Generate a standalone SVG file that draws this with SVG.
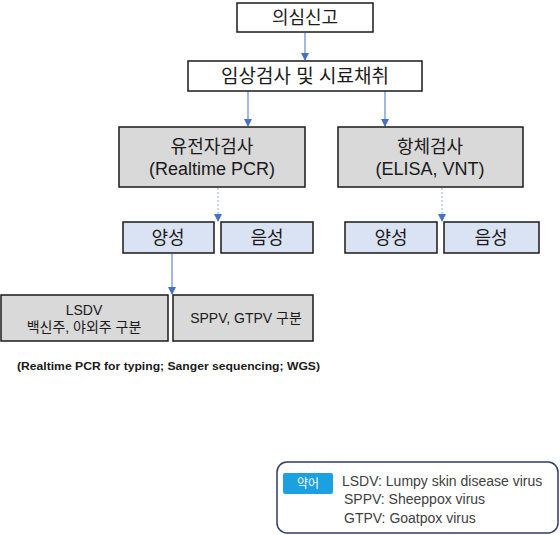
<svg xmlns="http://www.w3.org/2000/svg" width="560" height="535" viewBox="0 0 560 535">
<style>
.box{stroke:#1a1a1a;stroke-width:1.5}
.w{fill:#ffffff}
.g{fill:#d9d9d9}
.b{fill:#dae3f3}
.t{font-family:"Liberation Sans","Noto Sans CJK KR",sans-serif;fill:#1a1a1a;text-anchor:middle}
.lg{font-family:"Liberation Sans","Noto Sans CJK KR",sans-serif;fill:#404040;font-size:14px}
.arr{stroke:#4472c4;stroke-width:1;fill:none;marker-end:url(#ah)}
.dash{stroke:#9dbbe6;stroke-width:1.2;stroke-dasharray:2 2;fill:none;marker-end:url(#ah)}
</style>
<defs>
<marker id="ah" markerWidth="8" markerHeight="8" refX="7" refY="4" orient="auto" markerUnits="userSpaceOnUse">
<path d="M0,0 L8,4 L0,8 Z" fill="#4472c4"/>
</marker>
</defs>
<rect width="560" height="535" fill="#ffffff"/>
<g id="connectors">
<line class="arr" x1="305" y1="33" x2="305" y2="60"/>
<line class="arr" x1="248" y1="91" x2="248" y2="126"/>
<line class="arr" x1="385" y1="91" x2="385" y2="126"/>
<line class="dash" x1="218" y1="188" x2="218" y2="221"/>
<line class="dash" x1="442" y1="188" x2="442" y2="221"/>
<line class="arr" x1="172" y1="254" x2="172" y2="294"/>
</g>
<g id="n1">
<rect class="box w" x="237" y="3" width="136" height="29"/>
<text class="t" x="305" y="24" font-size="18">의심신고</text>
</g>
<g id="n2">
<rect class="box w" x="188" y="61" width="234" height="30"/>
<text class="t" x="305" y="83" font-size="19">임상검사 및 시료채취</text>
</g>
<g id="n3">
<rect class="box g" x="119" y="127" width="186" height="60"/>
<text class="t" x="212" y="153" font-size="18">유전자검사</text>
<text class="t" x="212" y="175" font-size="18">(Realtime PCR)</text>
</g>
<g id="n4">
<rect class="box g" x="338" y="127" width="185" height="60"/>
<text class="t" x="430" y="153" font-size="18">항체검사</text>
<text class="t" x="430" y="175" font-size="18">(ELISA, VNT)</text>
</g>
<g id="n5">
<rect class="box b" x="123" y="222" width="91" height="31"/>
<text class="t" x="168" y="244" font-size="18">양성</text>
</g>
<g id="n6">
<rect class="box b" x="221" y="222" width="92" height="31"/>
<text class="t" x="267" y="244" font-size="18">음성</text>
</g>
<g id="n7">
<rect class="box b" x="345" y="222" width="92" height="31"/>
<text class="t" x="391" y="244" font-size="18">양성</text>
</g>
<g id="n8">
<rect class="box b" x="444" y="222" width="95" height="31"/>
<text class="t" x="491" y="244" font-size="18">음성</text>
</g>
<g id="n9">
<rect class="box g" x="1" y="295" width="167" height="46"/>
<text class="t" x="84" y="315" font-size="14">LSDV</text>
<text class="t" x="84" y="332" font-size="14">백신주, 야외주 구분</text>
</g>
<g id="n10">
<rect class="box g" x="173" y="295" width="140" height="46"/>
<text class="t" x="246" y="323" font-size="14">SPPV, GTPV 구분</text>
</g>
<g id="note">
<text x="17" y="370" font-family="'Liberation Sans',sans-serif" font-weight="bold" font-size="11" fill="#1a1a1a" textLength="303" lengthAdjust="spacingAndGlyphs">(Realtime PCR for typing; Sanger sequencing; WGS)</text>
</g>
<g id="legend">
<rect x="277" y="462" width="281" height="71" rx="10" ry="10" fill="#ffffff" stroke="#2f3b66" stroke-width="1.5"/>
<rect x="283" y="473" width="50" height="21" rx="2" fill="#1ba1e2"/>
<text x="308" y="488" font-family="'Noto Sans CJK KR',sans-serif" font-size="12" fill="#ffffff" text-anchor="middle">약어</text>
<text class="lg" x="342" y="486">LSDV: Lumpy skin disease virus</text>
<text class="lg" x="344" y="504">SPPV: Sheeppox virus</text>
<text class="lg" x="344" y="523">GTPV: Goatpox virus</text>
</g>
</svg>
